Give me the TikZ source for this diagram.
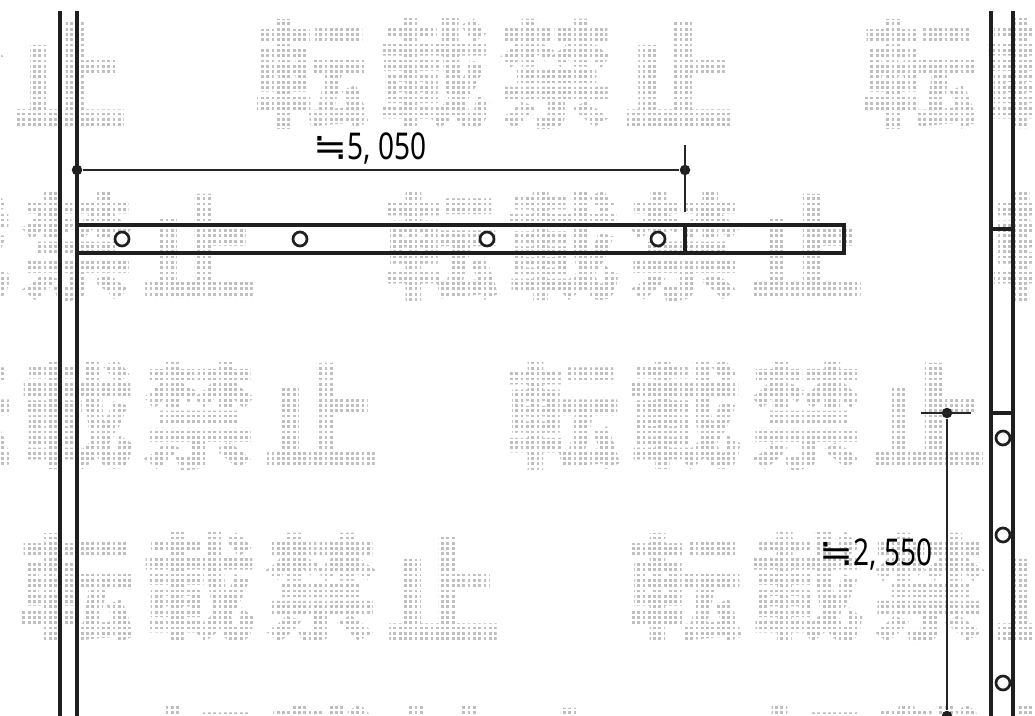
\documentclass[tikz,border=0pt]{standalone}
\usepackage{fontspec}
\newfontfamily\cjk{Noto Sans CJK JP}
\newfontfamily\dimfont{Noto Sans}
\newfontfamily\symfont{DejaVu Sans}
\newcommand{\nearly}{\scalebox{1.1}[1]{\symfont ≒}}
\begin{document}
\begin{tikzpicture}[x=0.02cm,y=-0.02cm,
    stamp/.style ={text=black!25, inner sep=0pt, font=\cjk\bfseries\fontsize{66pt}{66pt}\selectfont},
    wall/.style ={line width=0.061cm, black!88},
    hole/.style ={circle, draw, line width=0.054cm, black!88, fill=white, inner sep=0pt, minimum size=0.28cm},
    dimdot/.style ={circle, fill=black!88, inner sep=0pt, minimum size=0.21cm},
    dimline/.style ={line width=0.028cm, black!85},
    dimlabel/.style ={inner sep=0pt, font=\dimfont\fontsize{21pt}{21pt}\selectfont}]
   \useasboundingbox (0,0) rectangle (1035,716);
   \clip (0,0) rectangle (1035,716);

   % watermark rows
   \foreach \ypos/\xpos in {74/260, 246/389, 415/511, 588/25, 760/147}
     \foreach \k in {-2,...,2}
       \foreach \ch [count=\i from 0] in {転,載,禁,止}
         \node[stamp] (w) at (\xpos+\i*122+\k*608+52,\ypos) {\ch};
   \foreach \i in {0,...,195}
     \draw[white, line width=0.05cm] (\i*5.3,0) to (\i*5.3,716);
   \foreach \i in {0,...,135}
     \draw[white, line width=0.05cm] (0,\i*5.3) to (1035,\i*5.3);

   % walls
   \coordinate (la) at (60,11);  \coordinate (lb) at (60,716);
   \coordinate (lc) at (77,11);  \coordinate (ld) at (77,716);
   \coordinate (ra) at (991,11); \coordinate (rb) at (991,716);
   \coordinate (rc) at (1013,11); \coordinate (rd) at (1013,716);
   \draw[wall] (la) to (lb);
   \draw[wall] (lc) to (ld);
   \draw[wall] (ra) to (rb);
   \draw[wall] (rc) to (rd);
   \draw[wall] (991,229) to (1013,229);
   \draw[wall] (991,413) to (1013,413);

   % beam
   \coordinate (ba) at (77,225);
   \coordinate (bb) at (844,253);
   \draw[wall] (ba) rectangle (bb);
   \draw[wall] (685,225) to (685,253);
   \node[hole] (h1) at (122,239) {};
   \node[hole] (h2) at (300,239) {};
   \node[hole] (h3) at (487,239) {};
   \node[hole] (h4) at (658,239) {};
   \node[hole] (h5) at (1003,438) {};
   \node[hole] (h6) at (1003,535) {};
   \node[hole] (h7) at (1003,683) {};

   % dimensions
   \node[dimdot] (d1) at (77,170) {};
   \node[dimdot] (d2) at (685,170) {};
   \coordinate (d2a) at (685,145);
   \coordinate (d2b) at (685,212);
   \draw[dimline] (d1) to (d2);
   \draw[dimline] (d2a) to (d2b);
   \node[dimlabel] (l1) at (370,149) {\nearly\scalebox{.76}[1]{5, 050}};

   \node[dimdot] (d3) at (947,413) {};
   \node[dimdot] (d4) at (947,716) {};
   \coordinate (d3a) at (921,413);
   \coordinate (d3b) at (971,413);
   \draw[dimline] (d3) to (d4);
   \draw[dimline] (d3a) to (d3b);
   \node[dimlabel] (l2) at (876,555) {\nearly\scalebox{.76}[1]{2, 550}};
\end{tikzpicture}
\end{document}
